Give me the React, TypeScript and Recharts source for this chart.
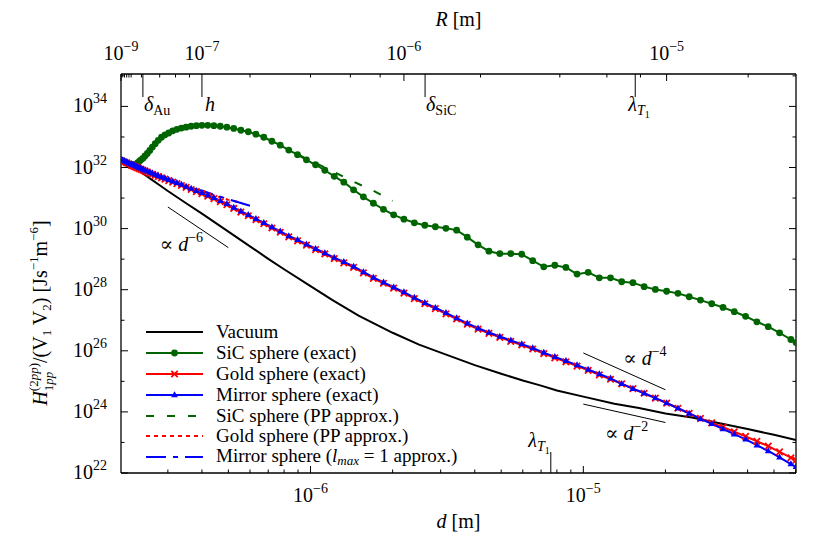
import React from "react";
import { Legend, Line, LineChart, ReferenceDot, ReferenceLine, XAxis, YAxis } from "recharts";

const FONT = '"Liberation Serif", "DejaVu Serif", "Times New Roman", serif';
const GREEN = "#006400";
const RED = "#ff0000";
const BLUE = "#0000ff";

// separation d [m] where the exact sphere results are sampled (log spaced in R)
const gridD = [
  2.02e-7, 2.04e-7, 2.08e-7, 2.12e-7, 2.16e-7,
  2.2e-7, 2.22e-7, 2.242e-7, 2.267e-7, 2.294e-7, 2.323e-7, 2.356e-7, 2.391e-7, 2.431e-7, 2.474e-7, 2.522e-7, 2.575e-7,
  2.632e-7, 2.696e-7, 2.766e-7, 2.843e-7, 2.928e-7, 3.022e-7, 3.125e-7, 3.238e-7, 3.363e-7, 3.5e-7, 3.651e-7, 3.817e-7,
  4.0e-7, 4.202e-7, 4.424e-7, 4.668e-7, 4.936e-7, 5.232e-7, 5.556e-7, 5.914e-7, 6.308e-7, 6.742e-7, 7.22e-7, 7.746e-7,
  8.324e-7, 8.962e-7, 9.662e-7, 1.0434e-6, 1.1284e-6, 1.2218e-6, 1.3246e-6, 1.438e-6, 1.5626e-6, 1.6998e-6, 1.8508e-6, 2.017e-6,
  2.2e-6, 2.402e-6, 2.624e-6, 2.868e-6, 3.136e-6, 3.432e-6, 3.756e-6, 4.114e-6, 4.508e-6, 4.942e-6, 5.42e-6, 5.946e-6,
  6.524e-6, 7.162e-6, 7.862e-6, 8.634e-6, 9.484e-6, 1.0418e-5, 1.1446e-5, 1.258e-5, 1.3826e-5, 1.5198e-5, 1.6708e-5, 1.837e-5,
  2.02e-5, 2.222e-5, 2.444e-5, 2.688e-5, 2.956e-5, 3.252e-5, 3.576e-5, 3.934e-5, 4.328e-5, 4.762e-5, 5.24e-5, 5.766e-5, 6.02e-5,
];

// log10 of H / (V1 V2) in J s^-1 m^-6
const sicExp = [
  32.24, 32.22, 32.19, 32.15, 32.12,
  32.1, 32.09, 32.08, 32.08, 32.1, 32.15, 32.2, 32.25, 32.3, 32.38, 32.46, 32.56,
  32.67, 32.78, 32.89, 32.99, 33.07, 33.13, 33.2, 33.25, 33.29, 33.32, 33.35, 33.37,
  33.38, 33.38, 33.37, 33.35, 33.32, 33.28, 33.22, 33.17, 33.09, 32.99, 32.86, 32.73,
  32.57, 32.42, 32.25, 32.09, 31.91, 31.71, 31.52, 31.27, 31.04, 30.83, 30.63, 30.45,
  30.31, 30.19, 30.11, 30.06, 30.01, 29.95, 29.72, 29.47, 29.26, 29.18, 29.18, 29.16,
  28.95, 28.75, 28.8, 28.73, 28.51, 28.57, 28.39, 28.39, 28.26, 28.23, 28.1, 28.01,
  27.95, 27.88, 27.77, 27.66, 27.54, 27.42, 27.28, 27.13, 26.95, 26.79, 26.59, 26.37, 26.27,
];
const goldExp = [
  32.23, 32.21, 32.18, 32.15, 32.11,
  32.08, 32.07, 32.05, 32.03, 32.01, 31.99, 31.96, 31.94, 31.91, 31.88, 31.85, 31.81,
  31.78, 31.74, 31.7, 31.66, 31.62, 31.57, 31.52, 31.47, 31.41, 31.35, 31.28, 31.21,
  31.14, 31.06, 30.98, 30.88, 30.78, 30.66, 30.54, 30.42, 30.29, 30.16, 30.02, 29.88,
  29.73, 29.6, 29.46, 29.31, 29.17, 29.02, 28.88, 28.73, 28.55, 28.37, 28.21, 28.05,
  27.89, 27.71, 27.54, 27.38, 27.21, 27.04, 26.87, 26.71, 26.57, 26.44, 26.31, 26.19,
  26.06, 25.91, 25.77, 25.64, 25.5, 25.36, 25.21, 25.07, 24.92, 24.76, 24.61, 24.45,
  24.29, 24.12, 23.95, 23.79, 23.64, 23.5, 23.35, 23.2, 23.04, 22.88, 22.69, 22.5, 22.42,
];
const mirrorExp = [
  32.26, 32.24, 32.21, 32.18, 32.14,
  32.11, 32.1, 32.08, 32.06, 32.04, 32.02, 31.99, 31.97, 31.94, 31.91, 31.88, 31.84,
  31.81, 31.77, 31.73, 31.69, 31.65, 31.6, 31.55, 31.5, 31.44, 31.38, 31.31, 31.24,
  31.17, 31.09, 31.01, 30.91, 30.81, 30.69, 30.57, 30.45, 30.32, 30.19, 30.05, 29.91,
  29.76, 29.63, 29.49, 29.34, 29.2, 29.05, 28.91, 28.76, 28.58, 28.4, 28.24, 28.08,
  27.92, 27.74, 27.57, 27.41, 27.24, 27.07, 26.9, 26.74, 26.6, 26.47, 26.34, 26.22,
  26.09, 25.94, 25.8, 25.67, 25.53, 25.39, 25.24, 25.1, 24.92, 24.76, 24.61, 24.45,
  24.29, 24.12, 23.95, 23.77, 23.61, 23.44, 23.27, 23.1, 22.91, 22.72, 22.51, 22.29, 22.2,
];

const vacuumD = [
  2.02e-7, 2.2e-7, 2.4e-7, 2.6e-7, 2.8e-7, 3e-7, 3.5e-7, 4e-7, 5e-7, 6e-7, 7e-7, 8e-7, 1e-6, 1.2e-6, 1.5e-6, 2e-6,
  2.5e-6, 3e-6, 4e-6, 5e-6, 6e-6, 7e-6, 8e-6, 1e-5, 1.3e-5, 1.6e-5, 2e-5, 2.5e-5, 3e-5, 4e-5, 5e-5, 6.02e-5,
];
const vacuumExp = [
  32.23, 32.05, 31.84, 31.62, 31.42, 31.23, 30.83, 30.49, 29.9, 29.42, 29.01, 28.67, 28.12, 27.67, 27.15, 26.59,
  26.2, 25.94, 25.53, 25.25, 25.03, 24.86, 24.7, 24.5, 24.27, 24.13, 23.95, 23.82, 23.67, 23.44, 23.25, 23.08,
];

const sicPPD = [9e-7, 1e-6, 1.2e-6, 1.4e-6, 1.7e-6, 2e-6];
const sicPPExp = [32.43, 32.22, 31.89, 31.58, 31.24, 30.91];
const goldPPD = [2.02e-7, 2.4e-7, 2.8e-7, 3.3e-7, 4e-7, 5e-7, 5.6e-7];
const goldPPExp = [32.24, 31.91, 31.66, 31.43, 31.22, 30.94, 30.85];
const mirrorL1D = [2.02e-7, 2.4e-7, 2.8e-7, 3.3e-7, 4e-7, 5e-7, 6e-7];
const mirrorL1Exp = [32.24, 31.92, 31.68, 31.45, 31.24, 30.96, 30.75];

// power-law guides: [d1, H1, d2, H2], label anchor [d, H]
const slopeNames = ["−6", "−4", "−2"];
const slopeSegs = [
  [3e-7, 5.1e30, 5e-7, 2.38e29],
  [1e-5, 8.5e25, 2e-5, 5.3e24],
  [1e-5, 1.8e24, 2e-5, 4.5e23],
];
const slopeLabelAt = [
  [2.8e-7, 1.8e29],
  [1.4e-5, 3.4e25],
  [1.2e-5, 1.2e23],
];

const bottomTicks = [3e-7, 4e-7, 5e-7, 6e-7, 7e-7, 8e-7, 9e-7, 1e-6, 2e-6, 3e-6, 4e-6, 5e-6, 6e-6, 7e-6, 7.6e-6, 8e-6, 9e-6, 1e-5, 2e-5, 3e-5, 4e-5, 5e-5, 6e-5];
const bottomMajor = [1e-6, 1e-5];
const bottomMajorExp = ["−6", "−5"];
const lambdaT1 = 7.6e-6;

// top axis: R [m], placed at d = 2R + 200 nm
const topMajor = [2.02e-7, 4e-7, 2.2e-6, 2.02e-5];
const topMajorExp = ["−9", "−7", "−6", "−5"];
const topMinor = [2.04e-7, 2.08e-7, 2.12e-7, 2.16e-7, 2.2e-7, 2.4e-7, 2.8e-7, 3.2e-7, 3.6e-7, 6e-7, 1e-6, 1.4e-6, 1.8e-6, 4.2e-6, 8.2e-6, 1.22e-5, 1.62e-5, 4.02e-5];
const topMarkD = [2.43e-7, 4e-7, 2.63e-6, 1.55e-5];
const topMarkName = ["dAu", "h", "dSiC", "lT"];
const topTicks = Array.from(new Set([...topMajor, ...topMinor, ...topMarkD])).sort((a, b) => a - b);

const yTicks = [1e22, 1e23, 1e24, 1e25, 1e26, 1e27, 1e28, 1e29, 1e30, 1e31, 1e32, 1e33, 1e34, 1e35];

const legendNames = ["Vacuum", "SiC sphere (exact)", "Gold sphere (exact)", "Mirror sphere (exact)", "SiC sphere (PP approx.)", "Gold sphere (PP approx.)", "Mirror sphere (lmax = 1 approx.)"];
const legendColors = ["#000", GREEN, RED, BLUE, GREEN, RED, BLUE];
const legendDash = ["", "", "", "", "8 13", "4 4", "20 7 5 7"];
const legendMarker = ["", "dot", "x", "tri", "", "", ""];

const rows = (ds: number[], exps: number[]) => ds.map((d, i) => ({ d, v: Math.pow(10, exps[i]) }));

const txt = { fontFamily: FONT, fill: "#000" };

const crossPath = (cx: number, cy: number, s: number) => `M${cx - s} ${cy - s}L${cx + s} ${cy + s}M${cx - s} ${cy + s}L${cx + s} ${cy - s}`;
const triPath = (cx: number, cy: number) => `M${cx} ${cy - 3.8}L${cx + 3.4} ${cy + 2.2}L${cx - 3.4} ${cy + 2.2}Z`;

const sicDot = (p: any) => <circle key={`s${p.index}`} cx={p.cx} cy={p.cy} r={3.4} fill={GREEN} />;
const goldDot = (p: any) => (
  <path key={`g${p.index}`} d={crossPath(p.cx, p.cy, 3.2)} stroke={RED} strokeWidth={1.8} fill="none" />
);
const mirrorDot = (p: any) => <path key={`m${p.index}`} d={triPath(p.cx, p.cy)} fill={BLUE} />;

function MarkLabel({ name, x, y }: { name: string; x: number; y: number }) {
  if (name === "h") return <text x={x + 3} y={y} {...txt} fontSize={20} fontStyle="italic">h</text>;
  if (name === "lT")
    return (
      <text x={x - 7} y={y} {...txt} fontSize={20}>
        <tspan fontStyle="italic">λ</tspan>
        <tspan fontStyle="italic" fontSize={14} dy={4}>T</tspan>
        <tspan fontSize={10} dy={3}>1</tspan>
      </text>
    );
  return (
    <text x={x + 1} y={y} {...txt} fontSize={20}>
      <tspan fontStyle="italic">δ</tspan>
      <tspan fontSize={14} dy={4}>{name.slice(1)}</tspan>
    </text>
  );
}

const BottomTick = (p: any) => {
  const { x, y, payload } = p;
  const v = payload.value;
  if (v === lambdaT1) {
    return (
      <g>
        <line x1={x} x2={x} y1={y} y2={y - 21} stroke="#000" strokeWidth={1} />
        <text x={x - 1} y={y - 26} textAnchor="end" {...txt} fontSize={20}>
          <tspan fontStyle="italic">λ</tspan>
          <tspan fontStyle="italic" fontSize={14} dy={4}>T</tspan>
          <tspan fontSize={10} dy={3}>1</tspan>
        </text>
      </g>
    );
  }
  const mi = bottomMajor.indexOf(v);
  return (
    <g>
      <line x1={x} x2={x} y1={y} y2={y - (mi >= 0 ? 7 : 3.5)} stroke="#000" strokeWidth={1} />
      {mi >= 0 && (
        <text x={x} y={y + 29} textAnchor="middle" {...txt} fontSize={20}>
          10<tspan fontSize={14} dy={-9}>{bottomMajorExp[mi]}</tspan>
        </text>
      )}
    </g>
  );
};

const TopTick = (p: any) => {
  const { x, y, payload } = p;
  const v = payload.value;
  const mi = topMajor.indexOf(v);
  const ai = topMarkD.indexOf(v);
  const len = ai >= 0 ? 23 : mi >= 0 ? 7 : 3.5;
  return (
    <g>
      <line x1={x} x2={x} y1={y} y2={y + len} stroke="#000" strokeWidth={1} />
      {mi >= 0 && (
        <text x={x} y={y - 14} textAnchor="middle" {...txt} fontSize={20}>
          10<tspan fontSize={14} dy={-9}>{topMajorExp[mi]}</tspan>
        </text>
      )}
      {ai >= 0 && <MarkLabel name={topMarkName[ai]} x={x} y={y + 37} />}
    </g>
  );
};

const LeftTick = (p: any) => {
  const { x, y, payload } = p;
  const e = Math.round(Math.log10(payload.value));
  const major = e % 2 === 0;
  return (
    <g>
      <line x1={x} x2={x + (major ? 7 : 3.5)} y1={y} y2={y} stroke="#000" strokeWidth={1} />
      {major && e < 35 && (
        <text x={x - 14} y={y + 6} textAnchor="end" {...txt} fontSize={20}>
          10<tspan fontSize={14} dy={-9}>{e}</tspan>
        </text>
      )}
    </g>
  );
};

const RightTick = (p: any) => {
  const { x, y, payload } = p;
  const e = Math.round(Math.log10(payload.value));
  return <line x1={x} x2={x - (e % 2 === 0 ? 7 : 3.5)} y1={y} y2={y} stroke="#000" strokeWidth={1} />;
};

const XTitle = (p: any) => (
  <text x={p.viewBox.x + p.viewBox.width / 2} y={p.viewBox.y + 55} textAnchor="middle" {...txt} fontSize={20}>
    <tspan fontStyle="italic">d</tspan> [m]
  </text>
);
const TopTitle = (p: any) => (
  <text x={p.viewBox.x + p.viewBox.width / 2} y={p.viewBox.y - 18} textAnchor="middle" {...txt} fontSize={20}>
    <tspan fontStyle="italic">R</tspan> [m]
  </text>
);
const YTitle = (p: any) => {
  const x = p.viewBox.x - 14;
  const y = 313;
  return (
    <text x={x} y={y} transform={`rotate(-90 ${x} ${y})`} textAnchor="middle" {...txt} fontSize={20}>
      <tspan fontStyle="italic">H</tspan>
      <tspan fontSize={13} dy={-9}>(2</tspan>
      <tspan fontSize={13} fontStyle="italic">pp</tspan>
      <tspan fontSize={13}>)</tspan>
      <tspan fontSize={13} dx={-28.2} dy={15}>1</tspan>
      <tspan fontSize={13} fontStyle="italic">pp</tspan>
      <tspan dx={8.7} dy={-6}>/(V</tspan>
      <tspan fontSize={13} dy={4}>1</tspan>
      <tspan dy={-4}> V</tspan>
      <tspan fontSize={13} dy={4}>2</tspan>
      <tspan dy={-4}>) [Js</tspan>
      <tspan fontSize={13} dy={-9}>−1</tspan>
      <tspan dy={9}>m</tspan>
      <tspan fontSize={13} dy={-9}>−6</tspan>
      <tspan dy={9}>]</tspan>
    </text>
  );
};

const slopeShape = (i: number) => (p: any) => (
  <text x={p.cx} y={p.cy} {...txt} fontSize={20}>
    ∝ <tspan fontStyle="italic">d</tspan>
    <tspan fontSize={14} dy={-9}>{slopeNames[i]}</tspan>
  </text>
);

function LegendMarker({ kind, color }: { kind: string; color: string }) {
  const cx = 28.5;
  const cy = 10;
  if (kind === "dot") return <circle cx={cx} cy={cy} r={3.4} fill={color} />;
  if (kind === "x") return <path d={crossPath(cx, cy, 3.2)} stroke={color} strokeWidth={1.8} />;
  if (kind === "tri") return <path d={triPath(cx, cy)} fill={color} />;
  return null;
}

const LegendBox = () => (
  <div style={{ fontFamily: FONT, fontSize: 19, color: "#000" }}>
    {legendNames.map((name, i) => (
      <div key={name} style={{ display: "flex", alignItems: "center", height: 20.8, whiteSpace: "nowrap" }}>
        <svg width={70} height={20} style={{ flex: "none" }}>
          <line x1={0} x2={57} y1={10} y2={10} stroke={legendColors[i]} strokeWidth={2} strokeDasharray={legendDash[i] || undefined} />
          <LegendMarker kind={legendMarker[i]} color={legendColors[i]} />
        </svg>
        {i === 6 ? (
          <span>
            Mirror sphere (<i>l</i>
            <sub style={{ fontSize: 13, fontStyle: "italic", verticalAlign: "-3px" }}>max</sub> = 1 approx.)
          </span>
        ) : (
          <span>{name}</span>
        )}
      </div>
    ))}
  </div>
);

export default function App() {
  const axisLine = { stroke: "#000", strokeWidth: 1.3 };
  const ids = { xAxisId: "bottom", yAxisId: "left" };
  return (
    <div style={{ position: "absolute", left: 0, top: 0, width: 840, height: 540, background: "#fff" }}>
      <LineChart width={840} height={540} margin={{ top: 44, right: 34, bottom: 37, left: 61 }}>
        <XAxis xAxisId="bottom" dataKey="d" type="number" scale="log" domain={[2.02e-7, 6.02e-5]} allowDataOverflow
          ticks={bottomTicks} interval={0} tick={BottomTick} tickLine={false} tickSize={0} tickMargin={0} height={30}
          axisLine={axisLine} label={{ content: XTitle }} />
        <XAxis xAxisId="top" orientation="top" dataKey="d" type="number" scale="log" domain={[2.02e-7, 6.02e-5]} allowDataOverflow
          ticks={topTicks} interval={0} tick={TopTick} tickLine={false} tickSize={0} tickMargin={0} height={30}
          axisLine={axisLine} label={{ content: TopTitle }} />
        <YAxis yAxisId="left" type="number" scale="log" domain={[1e22, 1.15e35]} allowDataOverflow
          ticks={yTicks} interval={0} tick={LeftTick} tickLine={false} tickSize={0} tickMargin={0} width={60}
          axisLine={axisLine} label={{ content: YTitle }} />
        <YAxis yAxisId="right" orientation="right" type="number" scale="log" domain={[1e22, 1.15e35]} allowDataOverflow
          ticks={yTicks} interval={0} tick={RightTick} tickLine={false} tickSize={0} tickMargin={0} width={10}
          axisLine={axisLine} />

        {slopeSegs.map((s, i) => (
          <ReferenceLine key={`seg${i}`} {...ids} segment={[{ x: s[0], y: s[1] }, { x: s[2], y: s[3] }]} stroke="#000" strokeWidth={1} />
        ))}
        {slopeLabelAt.map((a, i) => (
          <ReferenceDot key={`lab${i}`} {...ids} x={a[0]} y={a[1]} r={0} shape={slopeShape(i)} />
        ))}

        <Line {...ids} data={rows(vacuumD, vacuumExp)} dataKey="v" stroke="#000" strokeWidth={2} dot={false} activeDot={false} isAnimationActive={false} />
        <Line {...ids} data={rows(gridD, sicExp)} dataKey="v" stroke={GREEN} strokeWidth={2} dot={sicDot} activeDot={false} isAnimationActive={false} />
        <Line {...ids} data={rows(gridD, goldExp)} dataKey="v" stroke={RED} strokeWidth={2} dot={goldDot} activeDot={false} isAnimationActive={false} />
        <Line {...ids} data={rows(gridD, mirrorExp)} dataKey="v" stroke={BLUE} strokeWidth={2} dot={mirrorDot} activeDot={false} isAnimationActive={false} />
        <Line {...ids} data={rows(sicPPD, sicPPExp)} dataKey="v" stroke={GREEN} strokeWidth={2} strokeDasharray="8 13" dot={false} activeDot={false} isAnimationActive={false} />
        <Line {...ids} data={rows(goldPPD, goldPPExp)} dataKey="v" stroke={RED} strokeWidth={2} strokeDasharray="4 4" dot={false} activeDot={false} isAnimationActive={false} />
        <Line {...ids} data={rows(mirrorL1D, mirrorL1Exp)} dataKey="v" stroke={BLUE} strokeWidth={2} strokeDasharray="20 7 5 7" dot={false} activeDot={false} isAnimationActive={false} />

        <Legend layout="vertical" align="center" verticalAlign="middle" content={LegendBox}
          wrapperStyle={{ left: 146, top: 322, width: 340, height: 150 }} />
      </LineChart>
    </div>
  );
}
